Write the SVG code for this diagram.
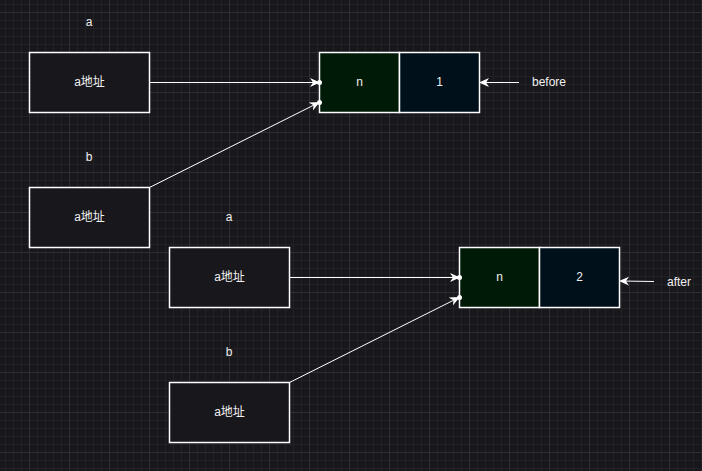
<svg xmlns="http://www.w3.org/2000/svg" width="702" height="471" viewBox="0 0 702 471">
<defs>
<pattern id="minor" x="5" y="4" width="8" height="8" patternUnits="userSpaceOnUse">
<path d="M0.5,0 V8 M0,0.5 H8" stroke="#222126" stroke-width="1" fill="none"/>
</pattern>
<pattern id="major" x="29" y="12" width="40" height="40" patternUnits="userSpaceOnUse">
<path d="M0.5,0 V40 M0,0.5 H40" stroke="#2f2e34" stroke-width="1" fill="none"/>
</pattern>
<marker id="arr" viewBox="0 0 10 10" refX="8" refY="5" markerWidth="10" markerHeight="10" markerUnits="userSpaceOnUse" orient="auto">
<path d="M0,0.5 L10,5 L0,9.5 L3,5 Z" fill="#ffffff"/>
</marker>
<style>
.box{fill:#18171c;stroke:#ffffff;stroke-width:1.5}
.cn{fill:#001a08;stroke:#ffffff;stroke-width:1.5}
.cv{fill:#00101a;stroke:#ffffff;stroke-width:1.5}
.t{font-family:"Liberation Sans","Noto Sans CJK SC",sans-serif;font-size:12px;fill:#f0f0f0;text-anchor:middle;dominant-baseline:central}
.e{stroke:#ffffff;stroke-width:1;fill:none}
.dot{fill:#ffffff}
</style>
</defs>
<rect width="702" height="471" fill="#18171c"/>
<rect width="702" height="471" fill="url(#minor)"/>
<rect width="702" height="471" fill="url(#major)"/>

<g id="labels">
<text class="t" x="89" y="22">a</text>
<text class="t" x="89" y="157">b</text>
<text class="t" x="229" y="217">a</text>
<text class="t" x="229" y="352">b</text>
<text class="t" x="549" y="82">before</text>
<text class="t" x="679" y="282">after</text>
</g>

<g id="top-a"><rect class="box" x="29.5" y="52.5" width="120" height="60"/><text class="t" x="89.5" y="82">a地址</text></g>
<g id="top-b"><rect class="box" x="29.5" y="187.5" width="120" height="60"/><text class="t" x="89.5" y="217">a地址</text></g>
<g id="bot-a"><rect class="box" x="169.5" y="247.5" width="120" height="60"/><text class="t" x="229.5" y="277">a地址</text></g>
<g id="bot-b"><rect class="box" x="169.5" y="382.5" width="120" height="60"/><text class="t" x="229.5" y="412">a地址</text></g>

<g id="top-struct">
<rect class="cn" x="319.5" y="52.5" width="80" height="60"/><text class="t" x="359.5" y="82">n</text>
<rect class="cv" x="399.5" y="52.5" width="80" height="60"/><text class="t" x="439.5" y="82">1</text>
</g>
<g id="bot-struct">
<rect class="cn" x="459.5" y="247.5" width="80" height="60"/><text class="t" x="499.5" y="277">n</text>
<rect class="cv" x="539.5" y="247.5" width="80" height="60"/><text class="t" x="579.5" y="277">2</text>
</g>

<g id="connectors">
<path class="e" d="M149.5,82.5 L318,82.5" marker-end="url(#arr)"/>
<circle class="dot" cx="319.5" cy="82.5" r="2.5"/>
<path class="e" d="M149.5,187.5 L318,103" marker-end="url(#arr)"/>
<circle class="dot" cx="319.5" cy="102.5" r="2.5"/>
<path class="e" d="M519,82.5 L481,82.5" marker-end="url(#arr)"/>
<path class="e" d="M289.5,277.5 L458,277.5" marker-end="url(#arr)"/>
<circle class="dot" cx="459.5" cy="277.5" r="2.5"/>
<path class="e" d="M289.5,382.5 L458,298" marker-end="url(#arr)"/>
<circle class="dot" cx="459.5" cy="297.5" r="2.5"/>
<path class="e" d="M654,281.5 L621,281" marker-end="url(#arr)"/>
</g>
</svg>
